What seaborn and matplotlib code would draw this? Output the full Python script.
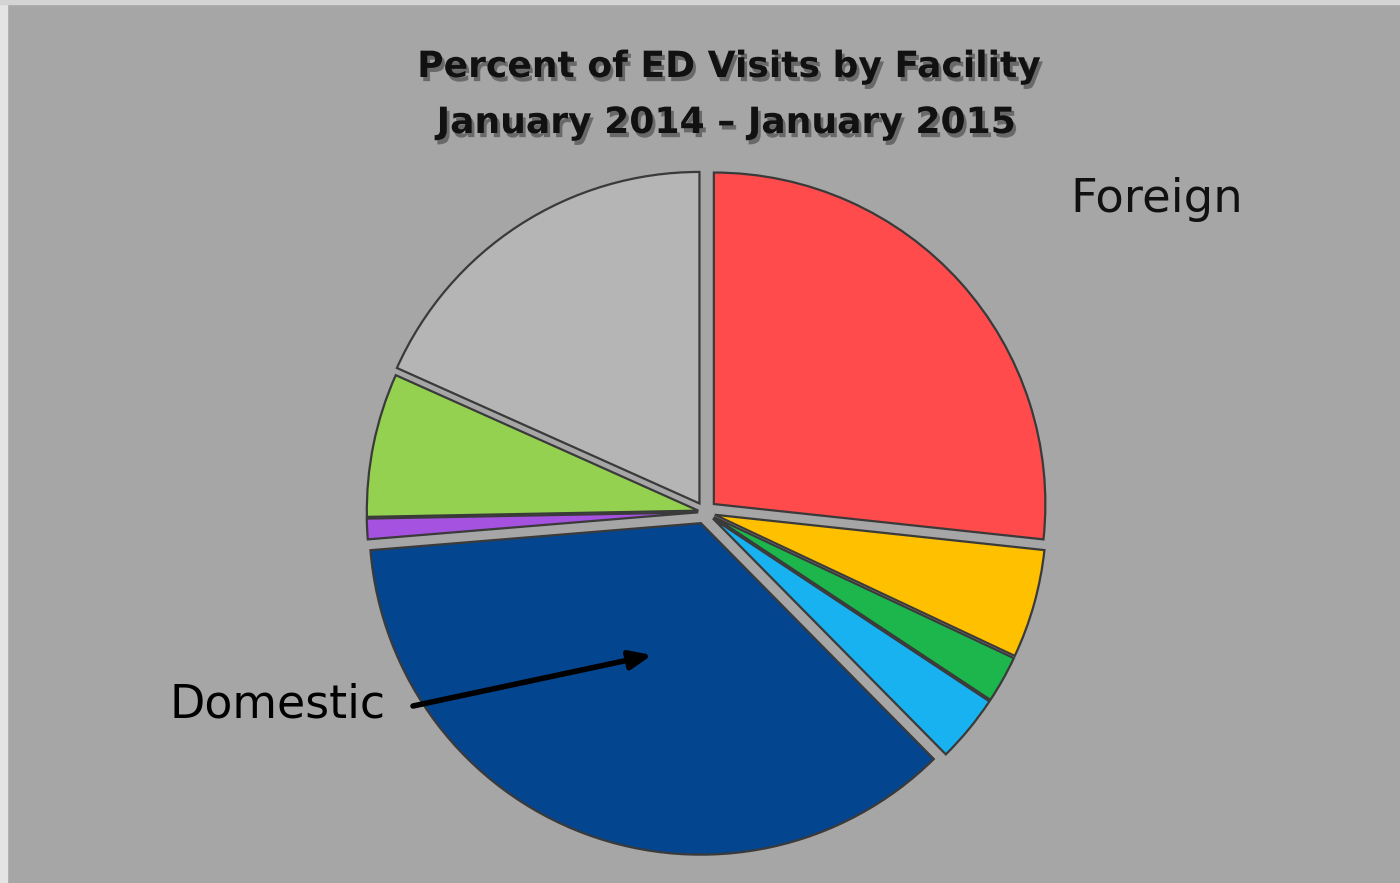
import matplotlib
matplotlib.use("Agg")
import matplotlib.pyplot as plt
import matplotlib.patheffects as pe
from matplotlib.patches import Rectangle
import seaborn as sns

# Slice shares (percent), clockwise from 12 o'clock
facilities = ["Foreign A", "Foreign B", "Foreign C", "Foreign D",
              "Domestic", "Other A", "Other B", "Other C"]
shares = [26.7, 5.3, 2.3, 3.3, 36.1, 1.0, 7.0, 18.3]
colors = ["#ff4b4b", "#ffc000", "#1cb64c", "#18b2f0",
          "#03468f", "#a552e0", "#94d151", "#b5b5b5"]
explode = [0.035, 0.03, 0.03, 0.03, 0.035, 0.02, 0.02, 0.03]

sns.set_style("white")
bg = "#a6a6a6"

fig = plt.figure(figsize=(14, 8.83), dpi=100, facecolor=bg)
ax = fig.add_axes([365 / 1400, 31 / 883, 680 / 1400, 680 / 883])
ax.set_facecolor(bg)

wedges, _ = ax.pie(
    shares,
    colors=colors,
    explode=explode,
    startangle=90,
    counterclock=False,
    radius=0.975,
    wedgeprops=dict(edgecolor="#3a3a3a", linewidth=1.6),
)
for w in wedges:
    w.set_clip_on(False)
ax.set_xlim(-1, 1)
ax.set_ylim(-1, 1)
ax.set_aspect("equal")
ax.axis("off")

# light frame on top and left edges
fig.patches.append(Rectangle((0, 0), 7 / 1400, 1, transform=fig.transFigure,
                             color="#e4e4e4", zorder=0))
fig.patches.append(Rectangle((0, 1 - 4 / 883), 1, 4 / 883, transform=fig.transFigure,
                             color="#d4d4d4", zorder=0))

shadow = [pe.withSimplePatchShadow(offset=(2, -3), shadow_rgbFace="#202020", alpha=0.45)]
title_kw = dict(ha="center", va="center", fontsize=26, fontweight="bold",
                color="#111111", family="DejaVu Sans")
fig.text(0.521, 1 - 67 / 883, "Percent of ED Visits by Facility", **title_kw).set_path_effects(shadow)
fig.text(0.519, 1 - 123 / 883, "January 2014 \u2013 January 2015", **title_kw).set_path_effects(shadow)

fig.text(1070 / 1400, 1 - 212 / 883, "Foreign", fontsize=33.5, color="#111111",
         ha="left", va="baseline")
fig.text(170 / 1400, 1 - 718 / 883, "Domestic", fontsize=33, color="black",
         ha="left", va="baseline")

ax.annotate("", xy=(652 / 1400, 1 - 655 / 883), xycoords="figure fraction",
            xytext=(413 / 1400, 1 - 706 / 883), textcoords="figure fraction",
            arrowprops=dict(arrowstyle="-|>,head_length=1.3,head_width=0.55",
                            color="black", lw=4, shrinkA=0, shrinkB=0))

fig.savefig("out.png", dpi=100, facecolor=bg)
